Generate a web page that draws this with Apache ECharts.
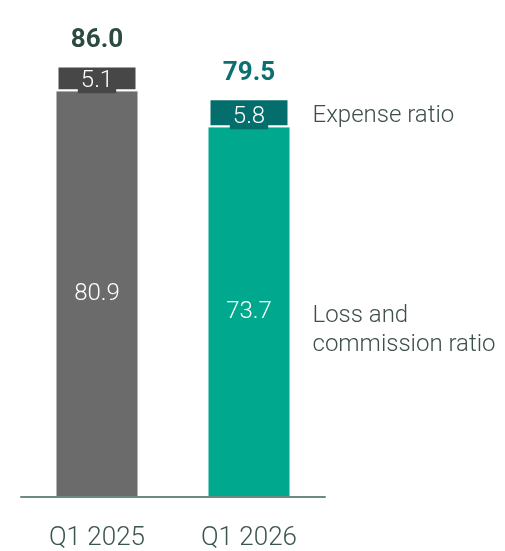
<!DOCTYPE html>
<html><head><meta charset="utf-8">
<script src="https://cdn.jsdelivr.net/npm/echarts@6/dist/echarts.min.js"></script>
<style>html,body{margin:0;padding:0;background:#fff}#c{width:505px;height:551px}</style>
</head><body><div id="c"></div>
<script>
const categories = ['Q1 2025', 'Q1 2026'];
const lossRatio = [80.9, 73.7];
const expenseRatio = [5.1, 5.8];
const totals = [86.0, 79.5];
const seriesNames = ['Loss and\ncommission ratio', 'Expense ratio'];

const lossColors = ['#6b6b6b', '#00a98e'];
const expColors = ['#474747', '#036e6c'];
const totalColors = ['#2b4a40', '#0b7070'];
const FONT = 'Roboto';

const chart = echarts.init(document.getElementById('c'), null, {renderer: 'canvas'});
chart.setOption({
  animation: false,
  grid: {left: 21, right: 180, top: 45.5, bottom: 51},
  xAxis: {
    type: 'category', data: categories, z: 5,
    axisLine: {lineStyle: {color: '#6f8a84', width: 2}},
    axisTick: {show: false},
    axisLabel: {fontFamily: FONT, fontWeight: 300, fontSize: 26, color: '#3b5550', margin: 28}
  },
  yAxis: {type: 'value', min: 0, max: 90, show: false, splitLine: {show: false}},
  series: [
    {
      type: 'bar', stack: 'a', barWidth: 81, name: 'loss',
      data: lossRatio.map((v, i) => ({value: v, itemStyle: {color: lossColors[i]}})),
      label: {show: true, position: 'inside', color: '#fff', fontFamily: FONT, fontWeight: 300, fontSize: 24,
        formatter: p => p.value.toFixed(1)}
    },
    {
      type: 'bar', stack: 'a', barWidth: 81, name: 'expense',
      data: expenseRatio.map((v, i) => ({value: v, itemStyle: {color: expColors[i], borderColor: '#fff', borderWidth: 2},
        label: {backgroundColor: expColors[i]}})),
      label: {show: true, position: 'insideBottom', distance: -2, color: '#fff', fontFamily: FONT, fontWeight: 300, fontSize: 24,
        lineHeight: 25, padding: [0, 3, 0, 3],
        formatter: p => p.value.toFixed(1)}
    },
    {
      type: 'bar', stack: 'a', barWidth: 81, name: 'total',
      data: totals.map((v, i) => ({value: 0, label: {color: totalColors[i]}})),
      itemStyle: {color: 'transparent'},
      label: {show: true, position: 'top', distance: 12, fontFamily: FONT, fontWeight: 'bold', fontSize: 26,
        formatter: p => totals[p.dataIndex].toFixed(1)}
    },
    {
      type: 'bar', stack: 'g', barWidth: 81, barGap: '-100%', silent: true,
      data: lossRatio.map((v, i) => i === 1 ? v : null),
      itemStyle: {color: 'transparent'},
      label: {show: true, position: 'right', distance: 23, offset: [0, 18], color: '#3d4f4b', fontFamily: FONT, fontWeight: 300,
        fontSize: 24, lineHeight: 29, formatter: () => seriesNames[0]}
    },
    {
      type: 'bar', stack: 'g', barWidth: 81, barGap: '-100%', silent: true,
      data: expenseRatio.map((v, i) => i === 1 ? v : null),
      itemStyle: {color: 'transparent'},
      label: {show: true, position: 'right', distance: 23, offset: [0, 3], color: '#3d4f4b', fontFamily: FONT, fontWeight: 300,
        fontSize: 24, formatter: () => seriesNames[1]}
    }
  ]
});
</script></body></html>
